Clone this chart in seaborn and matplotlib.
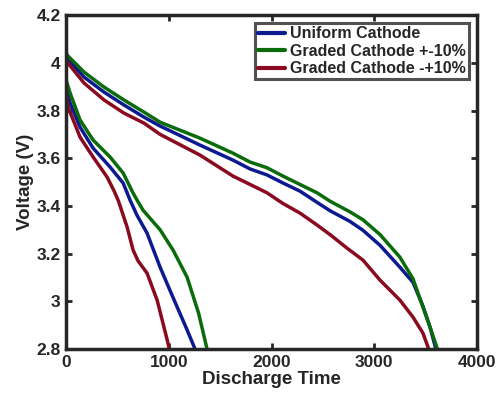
import numpy as np
import pandas as pd
import matplotlib
matplotlib.use("Agg")
import matplotlib.pyplot as plt
import seaborn as sns
from matplotlib.ticker import FuncFormatter

series_names = ["Uniform Cathode", "Graded Cathode +-10%", "Graded Cathode -+10%"]
colors = ["#0c1a8f", "#0a6b0a", "#8a0a1f"]

# low-rate (long) discharge curves
uni_long_t = [0, 10, 175, 370, 564, 759, 915, 1304, 1625, 1791, 1956, 2112, 2277, 2443,
              2569, 2764, 2890, 3056, 3250, 3377, 3474, 3543, 3600]
uni_long_v = [4.03, 4.018, 3.94, 3.877, 3.823, 3.772, 3.735, 3.655, 3.592, 3.555, 3.53, 3.496, 3.462, 3.415,
              3.38, 3.335, 3.298, 3.235, 3.143, 3.08, 2.98, 2.892, 2.80]
gp_long_t = [0, 10, 175, 370, 564, 759, 915, 1304, 1625, 1791, 1956, 2112, 2277, 2443,
             2569, 2764, 2890, 3056, 3250, 3377, 3474, 3543, 3615]
gp_long_v = [4.045, 4.032, 3.961, 3.898, 3.844, 3.793, 3.751, 3.684, 3.621, 3.584, 3.56, 3.525, 3.49, 3.455,
             3.42, 3.375, 3.342, 3.28, 3.185, 3.095, 2.976, 2.892, 2.80]
gm_long_t = [0, 10, 175, 370, 564, 759, 915, 1304, 1625, 1791, 1956, 2112, 2277, 2443,
             2569, 2735, 2890, 3056, 3250, 3377, 3474, 3530]
gm_long_v = [4.02, 4.003, 3.915, 3.844, 3.789, 3.747, 3.70, 3.613, 3.525, 3.49, 3.455, 3.41, 3.37, 3.32,
             3.28, 3.223, 3.173, 3.089, 3.005, 2.934, 2.867, 2.80]

# high-rate (short) discharge curves
uni_short_t = [0, 39, 136, 263, 428, 555, 623, 691, 788, 915, 1041, 1178, 1255]
uni_short_v = [3.894, 3.831, 3.73, 3.642, 3.563, 3.496, 3.424, 3.36, 3.286, 3.143, 3.016, 2.88, 2.80]
gp_short_t = [0, 39, 136, 263, 428, 555, 652, 691, 749, 915, 1041, 1178, 1290, 1372]
gp_short_v = [3.927, 3.873, 3.76, 3.676, 3.605, 3.538, 3.454, 3.424, 3.382, 3.30, 3.215, 3.101, 2.95, 2.80]
gm_short_t = [0, 19, 136, 263, 399, 470, 510, 594, 652, 700, 788, 886, 983, 1005]
gm_short_v = [3.873, 3.814, 3.688, 3.605, 3.521, 3.46, 3.42, 3.311, 3.215, 3.17, 3.118, 3.005, 2.84, 2.80]

rows = []
for name, (lt, lv, st, sv) in zip(series_names, [
        (uni_long_t, uni_long_v, uni_short_t, uni_short_v),
        (gp_long_t, gp_long_v, gp_short_t, gp_short_v),
        (gm_long_t, gm_long_v, gm_short_t, gm_short_v)]):
    for t, v in zip(lt, lv):
        rows.append((name, "low", t, v))
    for t, v in zip(st, sv):
        rows.append((name, "high", t, v))
df = pd.DataFrame(rows, columns=["cathode", "rate", "time", "voltage"])

sns.set_theme(style="ticks")
plt.rcParams["font.family"] = ["Liberation Sans", "DejaVu Sans"]
plt.rcParams["font.weight"] = "bold"

fig = plt.figure(figsize=(5.01, 3.98), dpi=100)
ax = fig.add_axes([0.132, 0.123, 0.820, 0.839])

sns.lineplot(data=df, x="time", y="voltage", hue="cathode", units="rate",
             estimator=None, sort=False, palette=colors, hue_order=series_names,
             linewidth=2.5, ax=ax)
for ln in ax.get_lines():
    ln.set_solid_joinstyle("round")
    ln.set_solid_capstyle("round")

ax.set_xlim(0, 4000)
ax.set_ylim(2.8, 4.2)
ax.set_xticks([0, 1000, 2000, 3000, 4000])
ax.set_yticks([2.8, 3.0, 3.2, 3.4, 3.6, 3.8, 4.0, 4.2])
ax.yaxis.set_major_formatter(FuncFormatter(lambda v, p: f"{v:g}"))
ax.xaxis.set_major_formatter(FuncFormatter(lambda v, p: f"{v:g}"))
ax.tick_params(direction="in", length=4, width=2, top=True, right=True,
               labelsize=12.5, colors="#262626", pad=4)
for s in ax.spines.values():
    s.set_linewidth(2.5)
    s.set_color("#262626")
    s.set_visible(True)
for lab in ax.get_xticklabels() + ax.get_yticklabels():
    lab.set_fontweight("bold")

ax.set_xlabel("Discharge Time", fontsize=13.5, fontweight="bold", color="#262626", labelpad=1)
ax.set_ylabel("Voltage (V)", fontsize=13.5, fontweight="bold", color="#262626", labelpad=2)

leg = ax.legend(loc="upper right", fontsize=11.5, frameon=True, fancybox=False,
                handlelength=1.7, handletextpad=0.3, borderpad=0.2,
                labelspacing=0.15, borderaxespad=0.5)
leg.get_frame().set_edgecolor("#262626")
leg.get_frame().set_linewidth(2.2)
for txt in leg.get_texts():
    txt.set_fontweight("bold")
for ln in leg.get_lines():
    ln.set_linewidth(3)

fig.savefig("out.png", dpi=100)
